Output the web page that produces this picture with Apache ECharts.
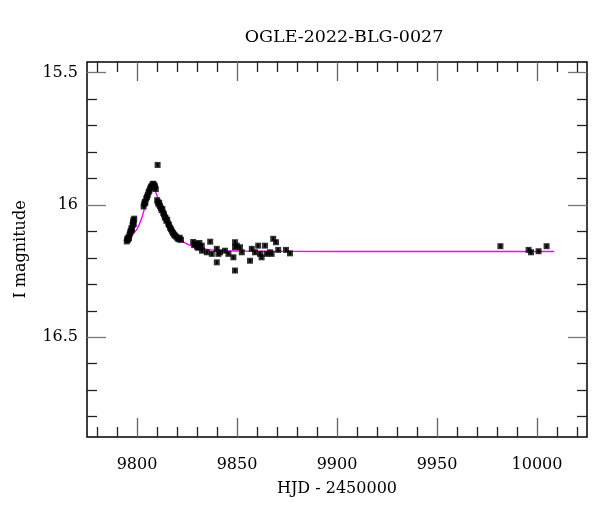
<!DOCTYPE html>
<html>
<head>
<meta charset="utf-8">
<script src="https://cdn.jsdelivr.net/npm/echarts@6/dist/echarts.min.js"></script>
<style>
html,body{margin:0;padding:0;background:#fff;}
#chart{width:600px;height:512px;}
</style>
</head>
<body>
<div id="chart"></div>
<script>
const titleText = 'OGLE-2022-BLG-0027';
const xName = 'HJD - 2450000';
const yName = 'I magnitude';

const obsT = [
  9794.9, 9795.1, 9795.4, 9795.7, 9796.0, 9796.3, 9796.6, 9796.9, 9797.2, 9797.5,
  9797.8, 9798.0, 9798.2, 9798.4, 9798.6,
  9803.3, 9803.6, 9803.9, 9804.2, 9804.6, 9805.0, 9805.4, 9805.8, 9806.2, 9806.6,
  9807.0, 9807.4, 9807.8, 9808.2, 9808.6, 9809.0, 9809.4, 9810.3,
  9810.1, 9810.4, 9810.8, 9811.1, 9811.5, 9811.9, 9812.3, 9812.7, 9813.1, 9813.5,
  9813.9, 9814.3, 9814.7, 9815.1, 9815.6, 9816.0, 9816.5, 9817.0, 9817.5, 9818.0,
  9818.5, 9819.0, 9819.6, 9820.2, 9820.8, 9821.4, 9822.0,
  9828.1, 9828.6, 9829.3, 9830.0, 9830.6, 9831.2, 9832.4, 9832.5, 9834.9, 9836.6,
  9837.4, 9839.9, 9839.9, 9840.7, 9841.5, 9844.0, 9845.7, 9848.2, 9849.0, 9849.0,
  9849.0, 9849.9, 9851.5, 9852.4, 9856.5, 9857.4, 9859.0, 9860.6, 9861.5, 9862.3,
  9864.0, 9864.8, 9866.5, 9867.3, 9868.1, 9869.5, 9870.6, 9874.5, 9876.5,
  9981.7, 9995.8, 9997.0, 10000.8, 10004.8
];
const obsMag = [
  16.138, 16.128, 16.132, 16.122, 16.126, 16.112, 16.104, 16.098, 16.088, 16.094,
  16.076, 16.066, 16.058, 16.072, 16.052,
  16.006, 15.996, 15.988, 15.992, 15.976, 15.970, 15.962, 15.952, 15.946, 15.938,
  15.932, 15.928, 15.922, 15.920, 15.926, 15.930, 15.940, 15.849,
  15.982, 15.990, 15.998, 15.992, 16.004, 16.012, 16.020, 16.016, 16.030, 16.036,
  16.046, 16.050, 16.060, 16.056, 16.070, 16.076, 16.086, 16.092, 16.100, 16.106,
  16.112, 16.116, 16.120, 16.126, 16.130, 16.124, 16.132,
  16.140, 16.152, 16.146, 16.158, 16.162, 16.144, 16.154, 16.173, 16.179, 16.139,
  16.185, 16.166, 16.217, 16.185, 16.179, 16.173, 16.185, 16.198, 16.141, 16.160,
  16.248, 16.154, 16.160, 16.179, 16.211, 16.166, 16.179, 16.154, 16.185, 16.198,
  16.154, 16.185, 16.179, 16.185, 16.128, 16.141, 16.170, 16.170, 16.183,
  16.156, 16.170, 16.179, 16.175, 16.156
];
const obsErr = obsMag.map(() => 0.007);

const modelT = [9793.3, 9796.7, 9800.0, 9802.5, 9804.1, 9805.8, 9807.5, 9808.6, 9810.0,
  9811.6, 9814.1, 9816.6, 9820.0, 9824.9, 9831.6, 9836.6, 9850.0, 9900.0, 9950.0, 10008.6];
const modelMag = [16.135, 16.120, 16.091, 16.047, 16.003, 15.958, 15.936, 15.940, 15.965,
  16.009, 16.053, 16.091, 16.122, 16.147, 16.163, 16.170, 16.174, 16.176, 16.176, 16.176];

const xMajorTicks = [9800, 9850, 9900, 9950, 10000];
const xMinorTicks = [9780, 9790, 9810, 9820, 9830, 9840, 9860, 9870, 9880, 9890, 9910, 9920,
  9930, 9940, 9960, 9970, 9980, 9990, 10010, 10020];
const yMajorTicks = [15.5, 16, 16.5];
const yMinorTicks = [15.6, 15.7, 15.8, 15.9, 16.1, 16.2, 16.3, 16.4, 16.6, 16.7, 16.8];

const FONT = 'DejaVu Serif';
const X_MIN = 9775, X_MAX = 10025, Y_MIN = 15.46, Y_MAX = 16.877;

function xAx(pos, ticks, len, color, withLabel) {
  const a = {
    type: 'value', position: pos, min: X_MIN, max: X_MAX,
    axisLine: { show: false }, splitLine: { show: false },
    axisTick: { show: true, inside: true, length: len, customValues: ticks,
      lineStyle: { color: color, width: 1.3 } },
    axisLabel: { show: false }
  };
  if (withLabel) {
    a.axisLabel = { show: true, customValues: ticks, margin: 20,
      formatter: function (v) { return String(v); },
      fontFamily: FONT, fontSize: 16, color: '#000' };
    a.name = xName; a.nameLocation = 'middle'; a.nameGap = 44;
    a.nameTextStyle = { fontFamily: FONT, fontSize: 16, color: '#000' };
  }
  return a;
}
function yAx(pos, ticks, len, color, withLabel) {
  const a = {
    type: 'value', position: pos, min: Y_MIN, max: Y_MAX, inverse: true,
    axisLine: { show: false }, splitLine: { show: false },
    axisTick: { show: true, inside: true, length: len, customValues: ticks,
      lineStyle: { color: color, width: 1.3 } },
    axisLabel: { show: false }
  };
  if (withLabel) {
    a.axisLabel = { show: true, customValues: ticks, margin: 9,
      formatter: function (v) { return String(v); },
      fontFamily: FONT, fontSize: 16, color: '#000' };
    a.name = yName; a.nameLocation = 'middle'; a.nameGap = 58; a.nameRotate = 90;
    a.nameTextStyle = { fontFamily: FONT, fontSize: 16, color: '#000' };
  }
  return a;
}

const chart = echarts.init(document.getElementById('chart'), null, { renderer: 'canvas' });
chart.setOption({
  animation: false,
  backgroundColor: '#fff',
  title: {
    text: titleText, left: 339, top: 23, textAlign: 'center',
    textStyle: { fontFamily: FONT, fontSize: 17.5, fontWeight: 'normal', color: '#000' }
  },
  grid: {
    left: 87, top: 62, right: 13, bottom: 75, containLabel: false, outerBoundsMode: 'none',
    show: true, borderColor: '#000', borderWidth: 1.5, backgroundColor: 'transparent'
  },
  xAxis: [
    xAx('bottom', xMajorTicks, 19, '#666', true),
    xAx('bottom', xMinorTicks, 10, '#222', false),
    xAx('top', xMajorTicks, 19, '#666', false),
    xAx('top', xMinorTicks, 10, '#222', false)
  ],
  yAxis: [
    yAx('left', yMajorTicks, 19, '#777', true),
    yAx('left', yMinorTicks, 10, '#222', false),
    yAx('right', yMajorTicks, 19, '#777', false),
    yAx('right', yMinorTicks, 10, '#222', false)
  ],
  series: [
    {
      type: 'line', xAxisIndex: 0, yAxisIndex: 0, showSymbol: false, smooth: 0.3,
      data: modelT.map((t, i) => [t, modelMag[i]]),
      lineStyle: { color: '#ff00ff', width: 1.4 }, z: 3
    },
    {
      type: 'custom', xAxisIndex: 0, yAxisIndex: 0, z: 4,
      data: obsT.map((t, i) => [t, obsMag[i], obsErr[i]]),
      renderItem: function (params, api) {
        const t = api.value(0), m = api.value(1), e = api.value(2);
        const p1 = api.coord([t, m - e]);
        const p2 = api.coord([t, m + e]);
        return { type: 'line', shape: { x1: p1[0], y1: p1[1], x2: p2[0], y2: p2[1] },
          style: { stroke: '#000', lineWidth: 2 } };
      }
    },
    {
      type: 'scatter', xAxisIndex: 0, yAxisIndex: 0, z: 5,
      symbol: 'rect', symbolSize: 6,
      data: obsT.map((t, i) => [t, obsMag[i]]),
      itemStyle: { color: '#000' }
    }
  ]
});
</script>
</body>
</html>
